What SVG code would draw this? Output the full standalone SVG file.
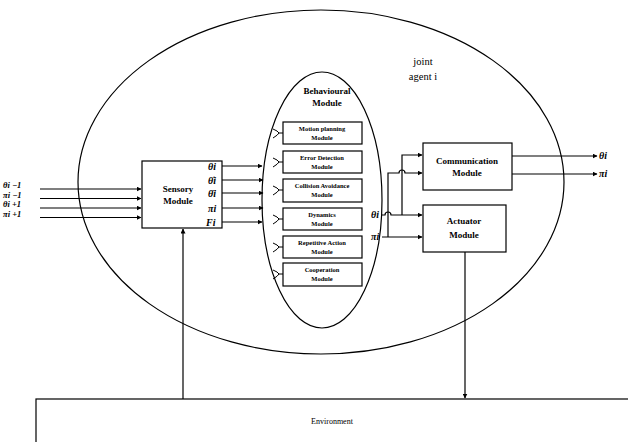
<svg xmlns="http://www.w3.org/2000/svg" width="628" height="442" viewBox="0 0 628 442">
<defs>
<marker id="arr" viewBox="0 0 10 10" refX="9" refY="5" markerWidth="5" markerHeight="5" orient="auto" markerUnits="userSpaceOnUse">
<path d="M0,0 L10,5 L0,10 z" fill="#000"/>
</marker>
</defs>
<style>
.ln{fill:none;stroke:#000;stroke-width:1.2}
.bx{fill:#fff;stroke:#000;stroke-width:1.2}
.ell{fill:none;stroke:#000;stroke-width:1.2}
.t{font-family:"Liberation Serif","Times New Roman",serif;fill:#000}
.mb{font-family:"Liberation Serif","Times New Roman",serif;font-weight:bold;font-size:6.5px;text-anchor:middle;fill:#000}
.lb{font-family:"Liberation Serif","Times New Roman",serif;font-weight:bold;font-size:9px;text-anchor:middle;fill:#000}
.v{font-family:"Liberation Serif","Times New Roman",serif;font-style:italic;font-weight:bold;font-size:10px;fill:#000}
.vs{font-family:"Liberation Serif","Times New Roman",serif;font-style:italic;font-weight:bold;font-size:8.5px;fill:#000}
.hk{fill:none;stroke:#000;stroke-width:1}
</style>
<rect width="628" height="442" fill="#fff"/>

<g id="agent">
<ellipse class="ell" cx="321" cy="182" rx="243" ry="172"/>
<text class="t" x="423" y="65" font-size="10.5" text-anchor="middle">joint</text>
<text class="t" x="423" y="80" font-size="10.5" text-anchor="middle">agent i</text>
</g>

<g id="behavioural">
<ellipse class="ell" cx="322" cy="200" rx="60" ry="128"/>
<text class="lb" x="327" y="94" font-size="8">Behavioural</text>
<text class="lb" x="327" y="106" font-size="8">Module</text>
</g>

<g id="motion">
<rect class="bx" x="283" y="122" width="79" height="22"/>
<text class="mb" x="322" y="131">Motion planning</text>
<text class="mb" x="322" y="140">Module</text>
<path class="hk" d="M273,129 Q278,131 279,133 Q278,135 273,138 M279,133 H283"/>
</g>
<g id="error">
<rect class="bx" x="283" y="151" width="79" height="22"/>
<text class="mb" x="322" y="160">Error Detection</text>
<text class="mb" x="322" y="169">Module</text>
<path class="hk" d="M273,158 Q278,160 279,162 Q278,164 273,167 M279,162 H283"/>
</g>
<g id="collision">
<rect class="bx" x="283" y="179" width="79" height="23"/>
<text class="mb" x="322" y="188">Collision Avoidance</text>
<text class="mb" x="322" y="197">Module</text>
<path class="hk" d="M273,186 Q278,188 279,190 Q278,192 273,195 M279,190 H283"/>
</g>
<g id="dynamics">
<rect class="bx" x="283" y="208" width="79" height="22"/>
<text class="mb" x="322" y="217">Dynamics</text>
<text class="mb" x="322" y="226">Module</text>
<path class="hk" d="M273,215 Q278,217 279,219 Q278,221 273,224 M279,219 H283"/>
</g>
<g id="repetitive">
<rect class="bx" x="283" y="236" width="79" height="22"/>
<text class="mb" x="322" y="245">Repetitive Action</text>
<text class="mb" x="322" y="254">Module</text>
<path class="hk" d="M273,243 Q278,245 279,247 Q278,249 273,252 M279,247 H283"/>
</g>
<g id="cooperation">
<rect class="bx" x="283" y="263" width="79" height="23"/>
<text class="mb" x="322" y="272">Cooperation</text>
<text class="mb" x="322" y="281">Module</text>
<path class="hk" d="M273,270 Q278,272 279,274 Q278,276 273,279 M279,274 H283"/>
</g>

<g id="sensory">
<rect class="bx" x="142" y="161" width="80" height="67"/>
<text class="lb" x="178" y="192">Sensory</text>
<text class="lb" x="178" y="204">Module</text>
<text class="v" x="208" y="170">θi</text>
<text class="v" x="208" y="184">θ̇i</text>
<text class="v" x="208" y="197">θ̈i</text>
<text class="v" x="208" y="212">πi</text>
<text class="v" x="206" y="226">Fi</text>
</g>

<g id="communication">
<rect class="bx" x="423" y="143" width="89" height="47"/>
<text class="lb" x="467" y="164">Communication</text>
<text class="lb" x="467" y="176">Module</text>
</g>

<g id="actuator">
<rect class="bx" x="423" y="205" width="83" height="47"/>
<text class="lb" x="464" y="224">Actuator</text>
<text class="lb" x="464" y="238">Module</text>
</g>

<g id="environment">
<rect class="bx" x="36" y="399" width="620" height="80"/>
<text class="t" x="332" y="424" font-size="8" text-anchor="middle">Environment</text>
</g>

<g id="labels">
<text class="vs" x="3" y="188">θi −1</text>
<text class="vs" x="3" y="197.5">πi −1</text>
<text class="vs" x="3" y="207">θi +1</text>
<text class="vs" x="3" y="216.5">πi +1</text>
<text class="v" x="371" y="218">θi</text>
<text class="v" x="371" y="240">πi</text>
<text class="v" x="599" y="159">θi</text>
<text class="v" x="599" y="177">πi</text>
</g>

<g id="connectors">
<path class="ln" d="M40,189 H141" marker-end="url(#arr)"/>
<path class="ln" d="M40,198.5 H141" marker-end="url(#arr)"/>
<path class="ln" d="M40,208 H141" marker-end="url(#arr)"/>
<path class="ln" d="M40,217.5 H141" marker-end="url(#arr)"/>

<path class="ln" d="M222,166 H262" marker-end="url(#arr)"/>
<path class="ln" d="M222,180 H263" marker-end="url(#arr)"/>
<path class="ln" d="M222,193 H263" marker-end="url(#arr)"/>
<path class="ln" d="M222,208 H263" marker-end="url(#arr)"/>
<path class="ln" d="M222,222 H262" marker-end="url(#arr)"/>

<path class="ln" d="M382,215 H385 A3,3 0 0 1 391,215 H422" marker-end="url(#arr)"/>
<path class="ln" d="M402,215 V155 H422" marker-end="url(#arr)"/>
<path class="ln" d="M382,237 H422" marker-end="url(#arr)"/>
<path class="ln" d="M388,237 V173 H399 A3,3 0 0 1 405,173 H422" marker-end="url(#arr)"/>

<path class="ln" d="M512,156 H597" marker-end="url(#arr)"/>
<path class="ln" d="M512,174 H597" marker-end="url(#arr)"/>

<path class="ln" d="M183,399 V229" marker-end="url(#arr)"/>
<path class="ln" d="M465,252 V398" marker-end="url(#arr)"/>
</g>
</svg>
